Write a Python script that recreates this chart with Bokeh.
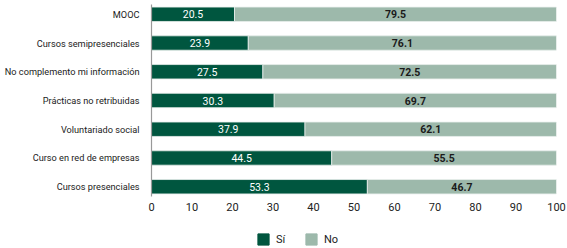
from bokeh.plotting import figure
from bokeh.layouts import column
from bokeh.models import ColumnDataSource, FactorRange, Range1d, Legend, LegendItem, LabelSet, FixedTicker
from bokeh.core.properties import value
from bokeh.embed import file_html
from bokeh.resources import INLINE

categories = ["MOOC", "Cursos semipresenciales", "No complemento mi información",
              "Prácticas no retribuidas", "Voluntariado social",
              "Curso en red de empresas", "Cursos presenciales"]
si = [20.5, 23.9, 27.5, 30.3, 37.9, 44.5, 53.3]
no = [79.5, 76.1, 72.5, 69.7, 62.1, 55.5, 46.7]
x_ticks = [0, 10, 20, 30, 40, 50, 60, 70, 80, 90, 100]
series_labels = ["Sí", "No"]

DARK = "#00563f"
LIGHT = "#9db9ab"
FONT = "Roboto"

src = ColumnDataSource(dict(
    cat=categories, si=si, no=no,
    si_mid=[s / 2 for s in si],
    no_mid=[s + n / 2 for s, n in zip(si, no)],
    si_txt=[f"{s:.1f}" for s in si],
    no_txt=[f"{n:.1f}" for n in no],
))

p = figure(
    y_range=FactorRange(factors=categories[::-1], range_padding=-0.16,
                        range_padding_units="absolute"),
    x_range=Range1d(0, 100),
    width=567, height=220,
    output_backend="svg", toolbar_location=None,
    min_border_left=151, min_border_right=11, min_border_top=4, min_border_bottom=24,
)
p.outline_line_color = None
p.grid.visible = False

rs = p.hbar_stack(["si", "no"], y="cat", height=0.5, color=[DARK, LIGHT],
                  line_color="#e9efec", line_width=0.8, source=src)

p.add_layout(LabelSet(x="si_mid", y="cat", text="si_txt", source=src,
                      text_align="center", text_baseline="middle",
                      text_color="white", text_font=value(FONT), text_font_size="10.5px"))
p.add_layout(LabelSet(x="no_mid", y="cat", text="no_txt", source=src,
                      text_align="center", text_baseline="middle",
                      text_color="#1a1a1a", text_font=value(FONT), text_font_size="10.5px",
                      text_font_style="bold"))

for ax in (p.xaxis, p.yaxis):
    ax.major_tick_line_color = None
    ax.minor_tick_line_color = None
    ax.major_tick_out = 0
    ax.major_tick_in = 0
    ax.minor_tick_out = 0
    ax.minor_tick_in = 0
    ax.major_label_text_font = FONT
    ax.major_label_text_color = "#222222"

p.xaxis.ticker = FixedTicker(ticks=x_ticks)
p.xaxis.axis_line_color = None
p.xaxis.major_label_text_font_size = "11px"
p.xaxis.major_label_standoff = 6

p.yaxis.axis_line_color = "#999999"
p.yaxis.axis_line_width = 1.2
p.yaxis.major_label_text_font_size = "9.2px"
p.yaxis.major_label_standoff = 12

# legend strip
lg = figure(width=567, height=28, output_backend="svg", toolbar_location=None,
            x_range=Range1d(0, 1), y_range=Range1d(0, 1),
            min_border_left=151, min_border_right=11, min_border_top=0, min_border_bottom=0)
lg.axis.visible = False
lg.grid.visible = False
lg.outline_line_color = None
r_si = lg.quad(left=[-1], right=[-1], top=[-1], bottom=[-1], color=DARK)
r_no = lg.quad(left=[-1], right=[-1], top=[-1], bottom=[-1], color=LIGHT)
legend = Legend(items=[LegendItem(label=series_labels[0], renderers=[r_si]),
                       LegendItem(label=series_labels[1], renderers=[r_no])],
                orientation="horizontal", location=(105, 2),
                glyph_width=14, glyph_height=14, label_standoff=6, spacing=14,
                label_width=14,
                label_text_font=FONT, label_text_font_size="11px",
                label_text_color="#222222", border_line_color=None,
                background_fill_alpha=0, padding=0, margin=0)
lg.add_layout(legend, "center")

open("out.html", "w").write(file_html(column(p, lg), INLINE))
